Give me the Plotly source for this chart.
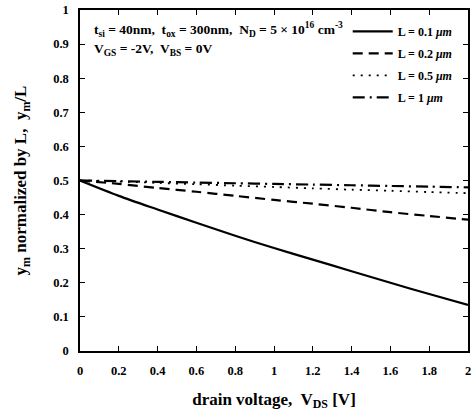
import plotly.graph_objects as go

vds = [0, 0.2, 0.4, 0.6, 0.8, 1.0, 1.2, 1.4, 1.6, 1.8, 2.0]
y_L01 = [0.5, 0.455, 0.415, 0.376, 0.338, 0.302, 0.268, 0.234, 0.2, 0.167, 0.135]
y_L02 = [0.5, 0.49, 0.478, 0.467, 0.455, 0.443, 0.432, 0.42, 0.407, 0.396, 0.385]
y_L05 = [0.5, 0.497, 0.493, 0.489, 0.485, 0.481, 0.477, 0.473, 0.47, 0.466, 0.463]
y_L1 = [0.5, 0.498, 0.496, 0.494, 0.492, 0.49, 0.488, 0.486, 0.484, 0.482, 0.48]
names = ["L = 0.1 <i>μm</i>", "L = 0.2 <i>μm</i>", "L = 0.5 <i>μm</i>", "L = 1 <i>μm</i>"]
x_ticks = [0, 0.2, 0.4, 0.6, 0.8, 1, 1.2, 1.4, 1.6, 1.8, 2]
x_ticklabels = ["0", "0.2", "0.4", "0.6", "0.8", "1", "1.2", "1.4", "1.6", "1.8", "2"]
y_ticks = [0, 0.1, 0.2, 0.3, 0.4, 0.5, 0.6, 0.7, 0.8, 0.9, 1]
y_ticklabels = ["0", "0.1", "0.2", "0.3", "0.4", "0.5", "0.6", "0.7", "0.8", "0.9", "1"]

FONT = "Liberation Serif"
series = [y_L01, y_L02, y_L05, y_L1]
dashes = ["solid", "10px,6px", "2px,6px", "12px,5px,2px,5px"]
widths = [2.2, 2.2, 1.8, 2.2]

fig = go.Figure()
for i, (ys, nm, d, w) in enumerate(zip(series, names, dashes, widths)):
    fig.add_trace(go.Scatter(x=vds, y=ys, mode="lines", name="<b>%s</b>" % nm, legendgroup="g%d" % i,
                             line=dict(color="black", width=w, dash=d, shape="spline", smoothing=0.8)))

axis_common = dict(showline=True, linecolor="black", linewidth=1.5, mirror="ticks",
                   ticks="inside", ticklen=5, tickcolor="black", showgrid=False,
                   zeroline=False, ticklabelstandoff=7,
                   tickfont=dict(family=FONT, size=12.5, color="black"))

fig.update_layout(
    width=473, height=415,
    margin=dict(l=80, r=3, t=9, b=64),
    paper_bgcolor="white", plot_bgcolor="white",
    font=dict(family=FONT, color="black"),
    xaxis=dict(range=[0, 2], tickvals=x_ticks, ticktext=["<b>%s</b>" % t for t in x_ticklabels],
               title=dict(text="<b>drain voltage,  V<sub>DS</sub> [V]</b>", font=dict(size=17), standoff=16),
               **axis_common),
    yaxis=dict(range=[0, 1], tickvals=y_ticks, ticktext=["<b>%s</b>" % t for t in y_ticklabels],
               title=dict(text="<b>y<sub>m</sub> normalized by L,  y<sub>m</sub>/L</b>", font=dict(size=17), standoff=22),
               **axis_common),
    legend=dict(x=0.69, y=0.98, xanchor="left", yanchor="top", bgcolor="rgba(0,0,0,0)",
                font=dict(family=FONT, size=12, color="black"), tracegroupgap=3,
                itemwidth=40),
    showlegend=True,
)

fig.add_annotation(xref="paper", yref="paper", x=0.03, y=0.978, xanchor="left", yanchor="top",
                   text="<b>t<sub>si</sub> = 40nm,  t<sub>ox</sub> = 300nm,  N<sub>D</sub> = 5 × 10<sup>16</sup> cm<sup>-3</sup></b>",
                   showarrow=False, font=dict(family=FONT, size=13.5, color="black"))
fig.add_annotation(xref="paper", yref="paper", x=0.03, y=0.915, xanchor="left", yanchor="top",
                   text="<b>V<sub>GS</sub> = -2V,  V<sub>BS</sub> = 0V</b>",
                   showarrow=False, font=dict(family=FONT, size=13.5, color="black"))

fig.write_html("out.html")
